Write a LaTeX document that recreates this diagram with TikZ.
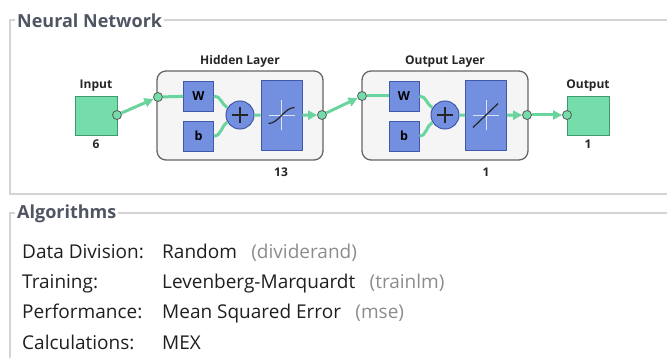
\documentclass[tikz,border=0pt]{standalone}
\usepackage{fontspec}
\setmainfont{Open Sans}
\usetikzlibrary{positioning,arrows.meta}

\definecolor{nnGreen}{HTML}{74DDA9}
\definecolor{nnGreenDk}{HTML}{3E9A6E}
\definecolor{nnBlue}{HTML}{7390E0}
\definecolor{nnBlueDk}{HTML}{4258A8}
\definecolor{nnWire}{HTML}{6AD49E}
\definecolor{frameGray}{HTML}{D4D4D4}
\definecolor{titleGray}{HTML}{4F5563}
\definecolor{noteGray}{HTML}{8C8C8C}

\tikzset{
  datanode/.style={draw=nnGreenDk, line width=0.8pt, fill=nnGreen, minimum width=42pt, minimum height=39pt, inner sep=0pt},
  layerbox/.style={draw=gray!80!black, line width=1.3pt, fill=gray!8, rounded corners=9pt, minimum width=166pt, minimum height=89pt, inner sep=0pt},
  wbox/.style={draw=nnBlueDk, line width=0.8pt, fill=nnBlue, minimum size=30pt, inner sep=0pt, font=\bfseries\fontsize{12.5}{14}\selectfont},
  sumnode/.style={circle, draw=nnBlueDk, line width=1pt, fill=nnBlue, minimum size=28pt, inner sep=0pt},
  tfbox/.style={draw=nnBlueDk, line width=0.8pt, fill=nnBlue, minimum width=41pt, minimum height=70pt, inner sep=0pt},
  port/.style={circle, draw=black!65, line width=0.8pt, fill=nnGreen, minimum size=9pt, inner sep=0pt},
  wire/.style={draw=nnWire, line width=3pt},
  flow/.style={wire, -{Triangle[length=9pt,width=9pt,fill=nnWire]}},
  axisln/.style={draw=white!75!nnBlue, line width=0.8pt},
  curveln/.style={draw=black!85, line width=1.2pt},
  lbl/.style={font=\bfseries\fontsize{12}{14}\selectfont, text=black!85, inner sep=1pt},
  grptitle/.style={font=\bfseries\fontsize{18}{20}\selectfont, text=titleGray, fill=white, inner sep=2pt, anchor=west},
  frame/.style={draw=frameGray, line width=1.6pt},
  key/.style={font=\fontsize{19}{22}\selectfont, text=black!88, inner sep=0pt, anchor=base west},
  note/.style={font=\fontsize{19}{22}\selectfont, text=noteGray, inner sep=0pt, anchor=base west},
}

\begin{document}
\begin{tikzpicture}[x=1pt, y=-1pt]
\useasboundingbox (0,0) rectangle (667,358);

% group frames
\draw[frame] (667,20) -- (10,20) -- (10,194) -- (667,194);
\node[grptitle] (nntitle) at (15,21) {Neural Network};
\draw[frame] (667,213) -- (10,213) -- (10,362);
\node[grptitle] (algtitle) at (15,214) {Algorithms};

% input
\node[datanode] (inbox) at (96,115.5) {};
\node[lbl, above=3pt of inbox] {Input};
\node[lbl, below=3pt of inbox] {6};
\node[port] (inport) at (117,115) {};

% hidden layer
\node[layerbox] (hlayer) at (240,115.5) {};
\node[lbl, above=2pt of hlayer] {Hidden Layer};
\node[port] (hin) at (158,97) {};
\node[wbox] (hw) at (198.5,96) {W};
\node[wbox] (hb) at (198.5,136) {b};
\node[sumnode] (hsum) at (240,115) {};
\node[tfbox] (htf) at (281.5,115.5) {};
\node[port] (hout) at (322,115) {};
\node[lbl] at (281,172) {13};

% output layer
\node[layerbox] (olayer) at (445,115.5) {};
\node[lbl, above=2pt of olayer] {Output Layer};
\node[port] (oin) at (362,96) {};
\node[wbox] (ow) at (404,96) {W};
\node[wbox] (ob) at (404,136) {b};
\node[sumnode] (osum) at (445,115) {};
\node[tfbox] (otf) at (486,115.5) {};
\node[port] (oout) at (527,115) {};
\node[lbl] at (486,172) {1};

% output
\node[datanode] (outbox) at (588,115.5) {};
\node[lbl, above=3pt of outbox] {Output};
\node[lbl, below=3pt of outbox] {1};
\node[port] (outport) at (567,115) {};

% plus signs
\foreach \s in {hsum,osum} {
  \draw[line width=1.2pt, black!85] ([xshift=-8pt]\s.center) -- ([xshift=8pt]\s.center);
  \draw[line width=1.2pt, black!85] ([yshift=-8pt]\s.center) -- ([yshift=8pt]\s.center);
}

% transfer functions
\draw[axisln] ([xshift=-13pt]htf.center) -- ([xshift=13pt]htf.center);
\draw[axisln] ([yshift=-15pt]htf.center) -- ([yshift=15pt]htf.center);
\draw[curveln] ([shift={(-13,8)}]htf.center) .. controls ([shift={(-3,8)}]htf.center) and ([shift={(3,-8)}]htf.center) .. ([shift={(13,-8)}]htf.center);
\draw[axisln] ([xshift=-13pt]otf.center) -- ([xshift=13pt]otf.center);
\draw[axisln] ([yshift=-15pt]otf.center) -- ([yshift=15pt]otf.center);
\draw[curveln] ([shift={(-13,12)}]otf.center) -- ([shift={(12,-12)}]otf.center);

% connections
\draw[flow] (inport) -- (hin);
\draw[wire] (hin) -- (hw);
\draw[wire] (hw.east) to[out=0, in=150] (hsum);
\draw[wire] (hb.east) to[out=0, in=-150] (hsum);
\draw[wire] (hsum) -- (htf);
\draw[flow] (htf) -- (hout);
\draw[flow] (hout) -- (oin);
\draw[wire] (oin) -- (ow);
\draw[wire] (ow.east) to[out=0, in=150] (osum);
\draw[wire] (ob.east) to[out=0, in=-150] (osum);
\draw[wire] (osum) -- (otf);
\draw[flow] (otf) -- (oout);
\draw[flow] (oout) -- (outport);

% algorithms
\node[key] (k1) at (22,259) {Data Division:};
\node[key] (k2) at (22,289) {Training:};
\node[key] (k3) at (22,319) {Performance:};
\node[key] (k4) at (22,349) {Calculations:};
\node[key] (v1) at (162,259) {Random};
\node[key] (v2) at (162,289) {Levenberg-Marquardt};
\node[key] (v3) at (162,319) {Mean Squared Error};
\node[key] (v4) at (162,349) {MEX};
\node[note] at ([xshift=14pt]v1.base east) {(dividerand)};
\node[note] at ([xshift=14pt]v2.base east) {(trainlm)};
\node[note] at ([xshift=14pt]v3.base east) {(mse)};
\end{tikzpicture}
\end{document}
